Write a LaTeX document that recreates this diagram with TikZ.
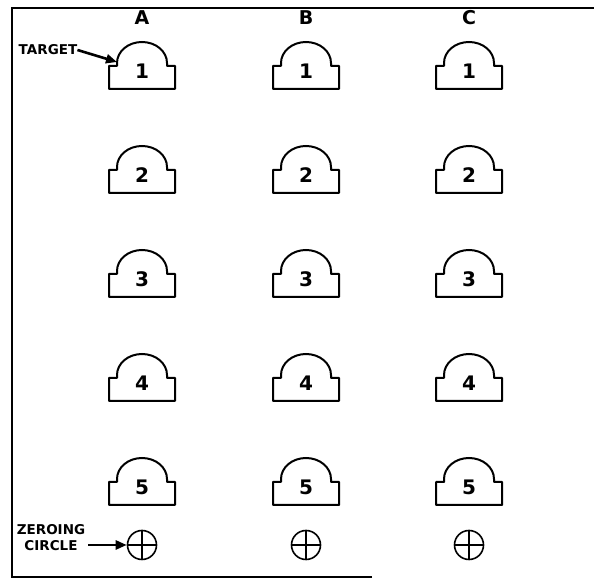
\documentclass[tikz,border=0pt]{standalone}
\usepackage{fontspec}
\setmainfont{DejaVu Sans}
\usetikzlibrary{arrows.meta}
\tikzset{
  outline/.style={line width=2pt, line join=round},
  frameline/.style={line width=2.6pt},
  numlabel/.style={font=\bfseries\fontsize{20}{20}\selectfont, inner sep=0pt},
  collabel/.style={font=\bfseries\fontsize{19}{19}\selectfont, inner sep=0pt},
  smalllabel/.style={font=\bfseries\fontsize{13.5}{16}\selectfont, inner sep=0pt, align=center},
  pointer/.style={line width=2.6pt, -{Triangle[length=11pt,width=9pt]}},
  zcircle/.style={circle, draw, line width=1.6pt, minimum size=29pt, inner sep=0pt},
  target/.pic={
    \draw[outline] (-33,0) -- (-33,23) -- (-25,23) -- (-25,26)
      arc[start angle=180, end angle=0, x radius=25pt, y radius=21pt]
      -- (25,23) -- (33,23) -- (33,0) -- cycle;
    \node[numlabel] (-num) at (0,18) {#1};
    \coordinate (-tip) at (-25,27);
  }
}
\begin{document}
\begin{tikzpicture}[x=1pt,y=1pt]
\useasboundingbox (0,0) rectangle (594,585);
% frame
\draw[frameline] (372,8) -- (12,8) -- (12,577) -- (594,577);
% column labels
\node[collabel] (colA) at (142,567) {A};
\node[collabel] (colB) at (306,567) {B};
\node[collabel] (colC) at (469,567) {C};
% targets
\foreach \c/\x in {A/142,B/306,C/469}{
  \foreach \r/\y in {1/496,2/392,3/288,4/184,5/80}{
    \pic (\c\r) at (\x,\y) {target=\r};
  }
}
% zeroing circles
\foreach \c/\x in {A/142,B/306,C/469}{
  \node[zcircle] (z\c) at (\x,40) {};
  \draw[line width=1.6pt] (z\c.north) -- (z\c.south) (z\c.west) -- (z\c.east);
}
% labels
\node[smalllabel] (tlabel) at (48,535) {TARGET};
\draw[pointer] (tlabel.east) -- (A1-tip);
\node[smalllabel, align=center] (zlabel) at (51,47.5) {ZEROING\\CIRCLE};
\coordinate (zstart) at (88,40);
\draw[pointer] (zstart) -- (zA.west);
\end{tikzpicture}
\end{document}
